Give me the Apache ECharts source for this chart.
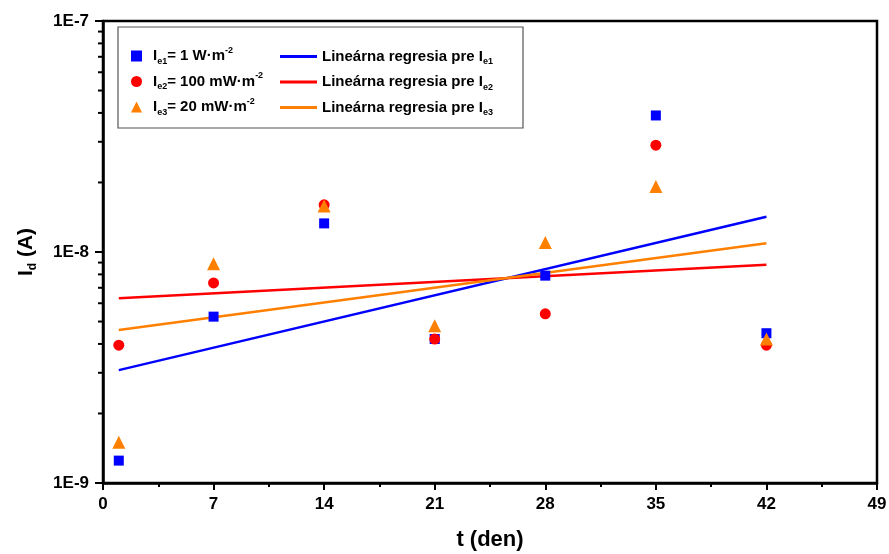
<!DOCTYPE html>
<html>
<head>
<meta charset="utf-8">
<script src="https://cdn.jsdelivr.net/npm/echarts@6/dist/echarts.min.js"></script>
<style>
  html, body { margin: 0; padding: 0; background: #fff; }
  #chart { width: 889px; height: 554px; }
</style>
</head>
<body>
<div id="chart"></div>
<script>
// Measurement days
const days = [1, 7, 14, 21, 28, 35, 42];

// Dark current I_d (A) for three illumination intensities
const ie1Values = [1.25e-9, 5.25e-9, 1.33e-8, 4.2e-9, 7.9e-9, 3.9e-8, 4.45e-9];
const ie2Values = [3.95e-9, 7.35e-9, 1.6e-8, 4.2e-9, 5.4e-9, 2.9e-8, 3.95e-9];
const ie3Values = [1.5e-9, 8.9e-9, 1.58e-8, 4.8e-9, 1.1e-8, 1.92e-8, 4.2e-9];

// Regression line end points (t = 1 and t = 42)
const fitDays = [1, 42];
const fit1Values = [3.08e-9, 1.42e-8];
const fit2Values = [6.3e-9, 8.8e-9];
const fit3Values = [4.6e-9, 1.09e-8];

// Axis ticks
const xTicks = [0, 7, 14, 21, 28, 35, 42, 49];
const yMinorTicks = [2e-9, 3e-9, 4e-9, 5e-9, 6e-9, 7e-9, 8e-9, 9e-9,
                     2e-8, 3e-8, 4e-8, 5e-8, 6e-8, 7e-8, 8e-8, 9e-8];

const BLUE = '#0000ff', RED = '#ff0000', ORANGE = '#ff8000';
const FONT = '"Liberation Sans", Arial, sans-serif';

const pairs = (xs, ys) => xs.map((x, i) => [x, ys[i]]);

const legendRich = {
  n:   { fontFamily: FONT, fontWeight: 'bold', fontSize: 15, color: '#000', lineHeight: 20 },
  sub: { fontFamily: FONT, fontWeight: 'bold', fontSize: 9, color: '#000', lineHeight: 20, verticalAlign: 'bottom' },
  sup: { fontFamily: FONT, fontWeight: 'bold', fontSize: 9, color: '#000', lineHeight: 20, verticalAlign: 'top' }
};

const legendText = {
  'Ie1': '{n|I}{sub|e1}{n|= 1 W·m}{sup|-2}',
  'Ie2': '{n|I}{sub|e2}{n|= 100 mW·m}{sup|-2}',
  'Ie3': '{n|I}{sub|e3}{n|= 20 mW·m}{sup|-2}',
  'Fit1': '{n|Lineárna regresia pre I}{sub|e1}',
  'Fit2': '{n|Lineárna regresia pre I}{sub|e2}',
  'Fit3': '{n|Lineárna regresia pre I}{sub|e3}'
};

const chart = echarts.init(document.getElementById('chart'));

chart.setOption({
  animation: false,
  backgroundColor: '#fff',
  grid: {
    left: 103, right: 12, top: 21, bottom: 71,
    outerBoundsMode: 'none',
    containLabel: false,
    show: true, borderColor: '#000', borderWidth: 2.5, backgroundColor: 'transparent'
  },
  xAxis: {
    type: 'value',
    min: xTicks[0],
    max: xTicks[xTicks.length - 1],
    interval: 7,
    name: 't (den)',
    nameLocation: 'middle',
    nameGap: 46,
    nameTextStyle: { fontFamily: FONT, fontWeight: 'bold', fontSize: 22, color: '#000' },
    axisLine: { lineStyle: { color: '#000', width: 2.5 } },
    axisTick: { inside: false, length: 7, lineStyle: { color: '#000', width: 2 } },
    minorTick: { show: true, splitNumber: 2, length: 4, lineStyle: { color: '#000', width: 2 } },
    axisLabel: {
      fontFamily: FONT, fontWeight: 'bold', fontSize: 17, color: '#000', margin: 13
    },
    splitLine: { show: false }
  },
  yAxis: {
    type: 'log',
    logBase: 10,
    min: 1e-9,
    max: 1e-7,
    name: '{n|I}{s|d}{n| (A)}',
    nameLocation: 'middle',
    nameGap: 64,
    nameTextStyle: {
      rich: {
        n: { fontFamily: FONT, fontWeight: 'bold', fontSize: 21, color: '#000', lineHeight: 26 },
        s: { fontFamily: FONT, fontWeight: 'bold', fontSize: 12, color: '#000', lineHeight: 26, verticalAlign: 'bottom' }
      }
    },
    axisLine: { lineStyle: { color: '#000', width: 2.5 } },
    axisTick: { inside: false, length: 8, lineStyle: { color: '#000', width: 2 } },
    axisLabel: {
      fontFamily: FONT, fontWeight: 'bold', fontSize: 17, color: '#000', margin: 14,
      formatter: v => '1E' + Math.round(Math.log10(v))
    },
    splitLine: { show: false }
  },
  legend: [
    {
      orient: 'vertical',
      left: 131, top: 46,
      padding: 0,
      itemGap: 5.5,
      itemWidth: 11, itemHeight: 11,
      data: ['Ie1', 'Ie2', 'Ie3'],
      formatter: name => legendText[name],
      textStyle: { rich: legendRich, padding: [0, 0, 0, 6] }
    },
    {
      orient: 'vertical',
      left: 280, top: 49,
      padding: 0,
      itemGap: 8,
      itemWidth: 37, itemHeight: 3,
      data: [
        { name: 'Fit1', icon: 'rect' },
        { name: 'Fit2', icon: 'rect' },
        { name: 'Fit3', icon: 'rect' }
      ],
      formatter: name => legendText[name],
      textStyle: { rich: legendRich }
    }
  ],
  graphic: [
    {
      type: 'rect',
      shape: { x: 118, y: 27, width: 405, height: 101 },
      style: { fill: 'transparent', stroke: '#555', lineWidth: 1.2 },
      z: 5
    }
  ],
  series: [
    {
      name: 'Fit1', type: 'line', data: pairs(fitDays, fit1Values),
      symbol: 'none', lineStyle: { color: BLUE, width: 2.5 }, itemStyle: { color: BLUE }, z: 3
    },
    {
      name: 'Fit2', type: 'line', data: pairs(fitDays, fit2Values),
      symbol: 'none', lineStyle: { color: RED, width: 2.5 }, itemStyle: { color: RED }, z: 3
    },
    {
      name: 'Fit3', type: 'line', data: pairs(fitDays, fit3Values),
      symbol: 'none', lineStyle: { color: ORANGE, width: 2.5 }, itemStyle: { color: ORANGE }, z: 3
    },
    {
      name: 'Ie1', type: 'scatter', data: pairs(days, ie1Values),
      symbol: 'rect', symbolSize: 10, itemStyle: { color: BLUE, opacity: 1 }, z: 4
    },
    {
      name: 'Ie2', type: 'scatter', data: pairs(days, ie2Values),
      symbol: 'circle', symbolSize: 11, itemStyle: { color: RED, opacity: 1 }, z: 4
    },
    {
      name: 'Ie3', type: 'scatter', data: pairs(days, ie3Values),
      symbol: 'triangle', symbolSize: 13, itemStyle: { color: ORANGE, opacity: 1 }, z: 4
    },
    {
      // logarithmic minor ticks on the left axis
      name: 'yMinor', type: 'custom', clip: false, silent: true, z: 10,
      data: yMinorTicks.map(v => [0, v]),
      renderItem: (params, api) => {
        const p = api.coord([0, api.value(1)]);
        return {
          type: 'line',
          shape: { x1: p[0] - 5, y1: p[1], x2: p[0], y2: p[1] },
          style: { stroke: '#000', lineWidth: 2 }
        };
      }
    }
  ]
});
</script>
</body>
</html>
